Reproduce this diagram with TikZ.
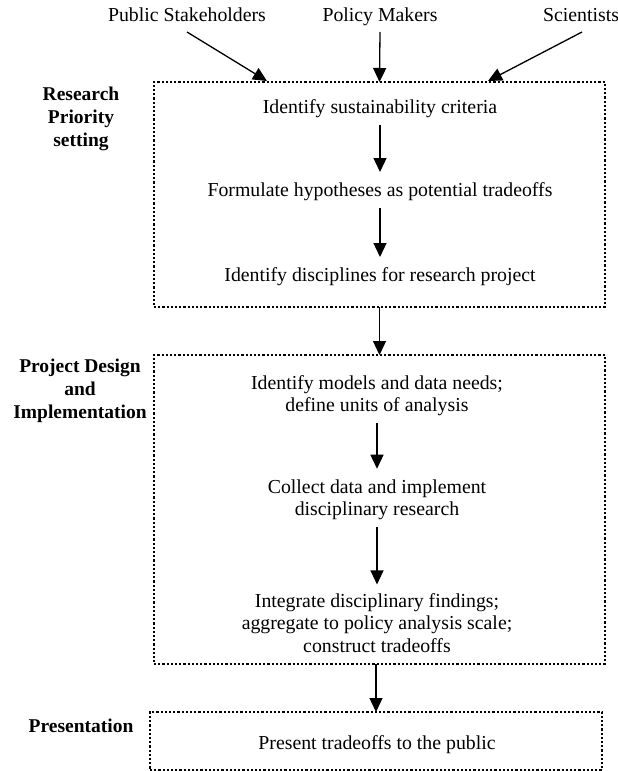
\documentclass[tikz,border=0pt]{standalone}
\usepackage{fontspec}
\setmainfont{Liberation Serif}
\usetikzlibrary{arrows.meta}
\tikzset{
  txtm/.style={inner sep=0pt, outer sep=0pt, align=center, font=\fontsize{19.8pt}{22.5pt}\selectfont},
  txt/.style={txtm, text height=13.5pt, text depth=4.5pt},
  toplabel/.style={txt, outer sep=6pt},
  sidelabel/.style={inner sep=0pt, align=center, font=\fontsize{19.5pt}{23pt}\selectfont\bfseries},
  dotbox/.style={draw, line width=2.4pt, dash pattern=on 2.2pt off 2pt, inner sep=0pt, outer sep=0pt},
  arr/.style={line width=1.3pt, -{Triangle[width=13pt,length=14pt]}},
  inarr/.style={arr, shorten <=7pt, shorten >=11pt}
}
\begin{document}
\begin{tikzpicture}[x=1pt,y=-1pt]
\useasboundingbox (0,0) rectangle (618,771);
% boxes
\node[dotbox, minimum width=451pt, minimum height=225pt] (box1) at (379.5,194.5) {};
\node[dotbox, minimum width=451pt, minimum height=309pt] (box2) at (379.5,509.5) {};
\node[dotbox, minimum width=452pt, minimum height=58pt] (box3) at (376,741) {};
% top labels
\node[toplabel] (pub) at (187,17) {Public Stakeholders};
\node[toplabel] (pol) at (380,17) {Policy Makers};
\node[toplabel] (sci) at (581,17) {Scientists};
\coordinate (t1) at (267,81);
\coordinate (t3) at (488,81);
\draw[arr] (pub.south) -- (t1);
\draw[arr] (pol.south) -- (box1.north);
\draw[arr] ([xshift=1pt]sci.south) -- (t3);
% side labels
\node[sidelabel] (l1) at (81,119) {Research\\Priority\\setting};
\node[sidelabel] (l2) at (80,391) {Project Design\\and\\Implementation};
\node[sidelabel] (l3) at (81,726) {Presentation};
% box 1 content
\node[txt] (a1) at (380,109) {Identify sustainability criteria};
\node[txt] (a2) at (380,192) {Formulate hypotheses as potential tradeoffs};
\node[txt] (a3) at (380,277) {Identify disciplines for research project};
\draw[inarr] (a1) -- (a2);
\draw[inarr] (a2) -- (a3);
% box 2 content
\node[txtm] (b1) at (377,395.5) {Identify models and data needs;\\define units of analysis};
\node[txtm] (b2) at (377,500) {Collect data and implement\\disciplinary research};
\node[txtm] (b3) at (377,623) {Integrate disciplinary findings;\\aggregate to policy analysis scale;\\construct tradeoffs};
\draw[inarr] (b1) -- (b2);
\draw[inarr, shorten >=9pt] (b2) -- (b3);
% box 3 content
\node[txt] (c1) at (377,745) {Present tradeoffs to the public};
% between boxes
\draw[arr] (box1.south) -- (box2.north);
\draw[arr] (box2.south -| box3.north) -- (box3.north);
\end{tikzpicture}
\end{document}
